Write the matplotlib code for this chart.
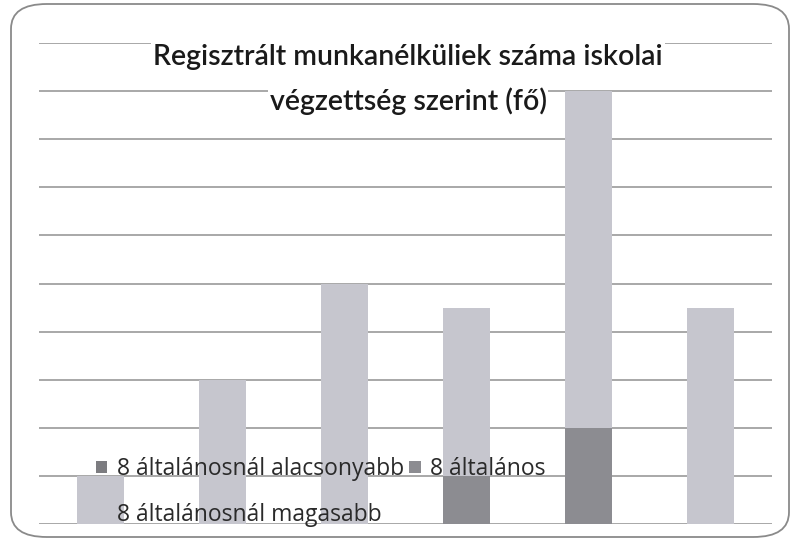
import matplotlib
matplotlib.use("Agg")
import matplotlib.pyplot as plt
from matplotlib.patches import FancyBboxPatch
import numpy as np

plt.rcParams['font.family'] = ['Lato', 'DejaVu Sans']

# adatok (rácsvonal egységekben, leolvasva)
kategoriak = ['1', '2', '3', '4', '5', '6']
alacsonyabb = [0, 0, 0, 0, 0, 0]
altalanos = [0, 0, 0, 1, 2, 0]
magasabb = [1, 3, 5, 3.5, 7, 4.5]
sorozatok = ['8 általánosnál alacsonyabb', '8 általános', '8 általánosnál magasabb']
szinek = ['#7c7c80', '#8c8c91', '#c6c6ce']

W, H = 795, 550
fig = plt.figure(figsize=(W / 100, H / 100), dpi=100)

# lekerekített keret
keret = FancyBboxPatch((11 / W, 13 / H), (789 - 11) / W, (546 - 13) / H,
                       boxstyle='round,pad=0,rounding_size=0.045',
                       transform=fig.transFigure, facecolor='none',
                       edgecolor='#8a8a8a', linewidth=1.3, zorder=-1)
fig.patches.append(keret)

ax = fig.add_axes([39 / W, (H - 524) / H, (772 - 39) / W, (524 - 43) / H])
ax.patch.set_alpha(0)
x = np.arange(len(kategoriak))
w = 0.385
b1 = ax.bar(x, alacsonyabb, w, color=szinek[0], zorder=2)
b2 = ax.bar(x, altalanos, w, bottom=alacsonyabb, color=szinek[1], zorder=2)
alap = np.array(alacsonyabb) + np.array(altalanos)
b3 = ax.bar(x, magasabb, w, bottom=alap, color=szinek[2], zorder=2)

ax.set_xlim(-0.5, len(kategoriak) - 0.5)
ax.set_ylim(0, 10)
ax.set_yticks(range(0, 11))
ax.set_xticks([])
ax.tick_params(left=False, labelleft=False)
ax.grid(axis='y', color='#9a9a9a', linewidth=1.2, zorder=1)
for s in ax.spines.values():
    s.set_visible(False)

cim = dict(ha='center', va='center', fontsize=20.5, weight='semibold',
           color='#1a1a1a', zorder=6,
           bbox=dict(facecolor='white', edgecolor='none', pad=1.5))
fig.text(408 / W, 1 - 57 / H, 'Regisztrált munkanélküliek száma iskolai', **cim)
fig.text(408 / W, 1 - 101 / H, 'végzettség szerint (fő)', **cim)

leg = ax.legend([b1, b3, b2], [sorozatok[0], sorozatok[2], sorozatok[1]],
                ncol=2, loc='upper left', bbox_to_anchor=(96 / W, 1 - 457 / H),
                bbox_transform=fig.transFigure, frameon=False,
                prop={'family': ['Open Sans', 'DejaVu Sans'], 'size': 16.5},
                handlelength=0.5, handleheight=0.45,
                handletextpad=0.4, columnspacing=0.25, labelspacing=0.95,
                borderaxespad=0, borderpad=0)
leg.set_zorder(5)
for t in leg.get_texts():
    t.set_color('#2a2a2a')

fig.savefig('out.png', dpi=100)
